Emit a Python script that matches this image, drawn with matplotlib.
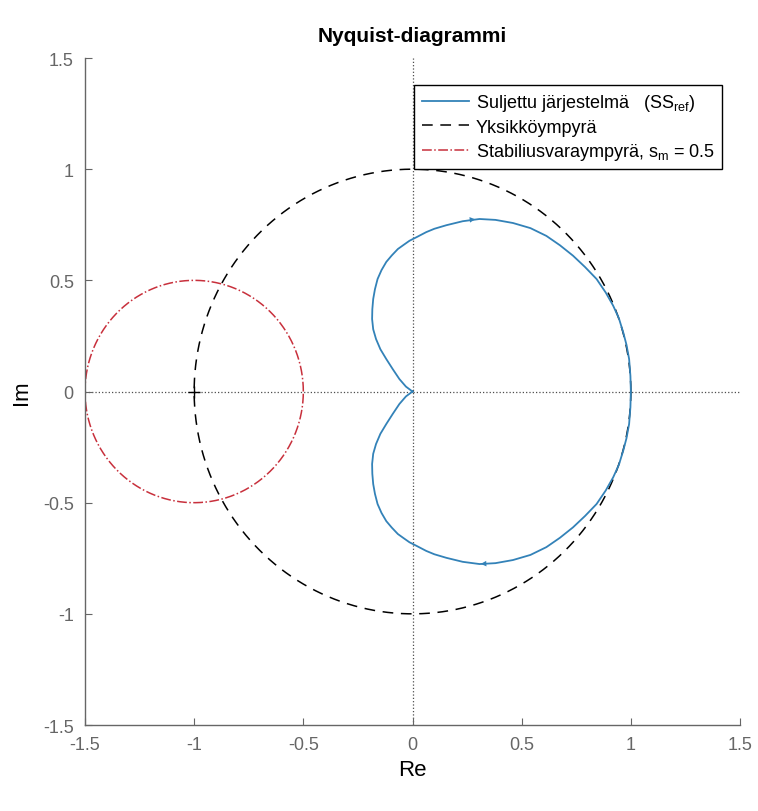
import numpy as np
import matplotlib
matplotlib.use('Agg')
import matplotlib.pyplot as plt

plt.rcParams['font.family'] = ['Liberation Sans', 'DejaVu Sans']
plt.rcParams['mathtext.default'] = 'regular'

# suljetun järjestelmän Nyquist-käyrä (yläpuolisko, luettu kuvasta), alapuolisko peilikuva
re_upper = [1.0, 0.998, 0.992, 0.98, 0.965, 0.945, 0.919, 0.885, 0.843, 0.79, 0.735, 0.675,
            0.613, 0.54, 0.46, 0.38, 0.307, 0.23, 0.155, 0.10, 0.063, 0.02, -0.014, -0.04,
            -0.067, -0.095, -0.12, -0.142, -0.16, -0.172, -0.18, -0.184, -0.185, -0.18,
            -0.167, -0.147, -0.12, -0.09, -0.06, -0.03, 0.0]
im_upper = [0.0, 0.07, 0.146, 0.21, 0.266, 0.33, 0.386, 0.445, 0.506, 0.56, 0.611, 0.658,
            0.70, 0.735, 0.758, 0.772, 0.776, 0.766, 0.748, 0.732, 0.717, 0.695, 0.678, 0.66,
            0.641, 0.612, 0.583, 0.546, 0.506, 0.46, 0.416, 0.37, 0.326, 0.28,
            0.236, 0.19, 0.146, 0.10, 0.056, 0.022, 0.0]

# ympyrät: keskipiste ja säde
unit_center, unit_radius = (0.0, 0.0), 1.0
sm = 0.5
margin_center, margin_radius = (-1.0, 0.0), sm

ticks = [-1.5, -1, -0.5, 0, 0.5, 1, 1.5]
tick_labels = ['-1.5', '-1', '-0.5', '0', '0.5', '1', '1.5']

fig = plt.figure(figsize=(7.58, 8.12), dpi=100)
ax = fig.add_axes([0.1121, 0.1059, 0.9763 - 0.1121, 0.9273 - 0.1059])

# akselit
ax.plot([-1.5, 1.5], [0, 0], ':', color='0.3', lw=0.9, zorder=1)
ax.plot([0, 0], [-1.5, 1.5], ':', color='0.3', lw=0.9, zorder=1)

re = np.array(re_upper)
im = np.array(im_upper)
re_all = np.concatenate([re[::-1], re[1:]])
im_all = np.concatenate([im[::-1], -im[1:]])
blue = '#3382b8'
ax.plot(re_all, im_all, '-', color=blue, lw=1.3, label='Suljettu järjestelmä   (SS$_{ref}$)', zorder=3)

# nuolet
ax.annotate('', xy=(0.30, 0.776), xytext=(0.26, 0.772),
            arrowprops=dict(arrowstyle='-|>', color=blue, lw=0, mutation_scale=10))
ax.annotate('', xy=(0.30, -0.776), xytext=(0.34, -0.774),
            arrowprops=dict(arrowstyle='-|>', color=blue, lw=0, mutation_scale=10))

t = np.linspace(0, 2 * np.pi, 400)
ax.plot(unit_center[0] + unit_radius * np.cos(t), unit_center[1] + unit_radius * np.sin(t),
        '--', color='black', lw=1.1, dashes=(7, 5), label='Yksikköympyrä', zorder=2)
ax.plot(margin_center[0] + margin_radius * np.cos(t), margin_center[1] + margin_radius * np.sin(t),
        '-.', color='#c8303c', lw=1.1, label='Stabiliusvaraympyrä, s$_m$ = 0.5', zorder=2)
ax.plot(-1, 0, '+', color='black', ms=9, mew=1.0, zorder=4)

ax.set_xlim(-1.5, 1.5)
ax.set_ylim(-1.5, 1.5)
ax.set_xticks(ticks)
ax.set_xticklabels(tick_labels)
ax.set_yticks(ticks)
ax.set_yticklabels(tick_labels)
ax.spines['top'].set_visible(False)
ax.spines['right'].set_visible(False)
for s in ['left', 'bottom']:
    ax.spines[s].set_color('0.4')
    ax.spines[s].set_linewidth(1.0)
ax.tick_params(direction='in', length=5, colors='0.4', labelcolor='0.4', labelsize=13, pad=8)

ax.set_title('Nyquist-diagrammi', fontsize=15, fontweight='bold', pad=12)
ax.set_xlabel('Re', fontsize=16, labelpad=4)
ax.set_ylabel('Im', fontsize=16, labelpad=8)

leg = ax.legend(loc='upper right', bbox_to_anchor=(0.9725, 0.9595), borderaxespad=0,
                fancybox=False, framealpha=1, edgecolor='black', fontsize=13,
                handlelength=2.6, handletextpad=0.4, borderpad=0.4, labelspacing=0.3)
leg.get_frame().set_linewidth(1.0)

fig.savefig('out.png', dpi=100)
